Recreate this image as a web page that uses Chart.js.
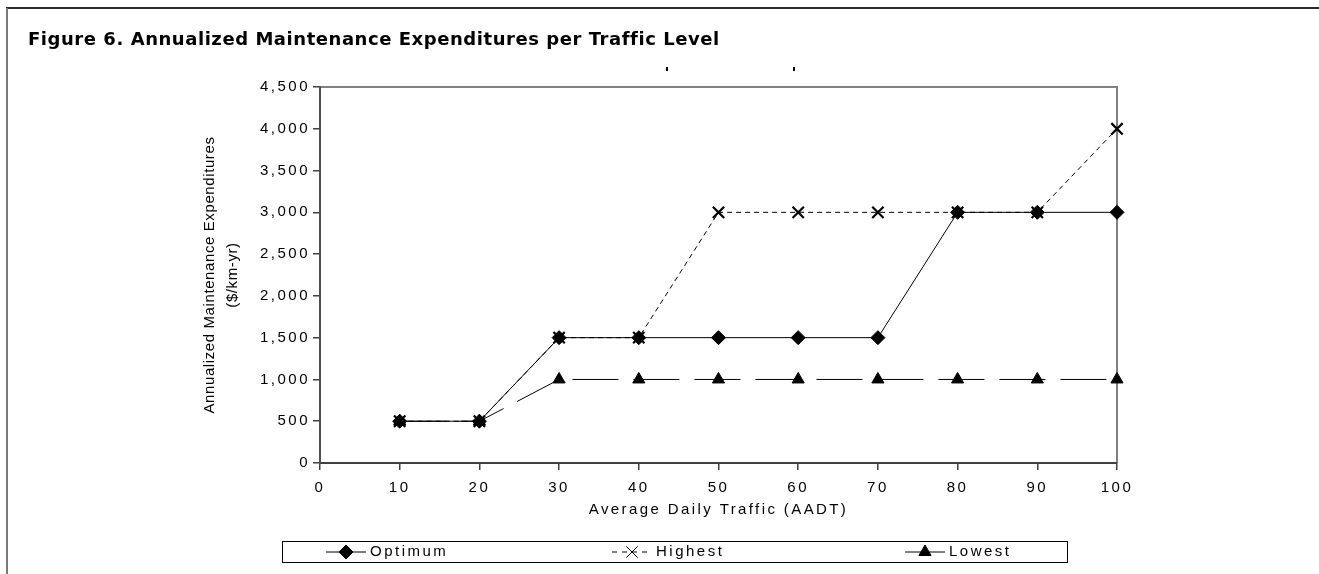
<!DOCTYPE html>
<html>
<head>
<meta charset="utf-8">
<script src="https://cdn.jsdelivr.net/npm/chart.js@4.4.1/dist/chart.umd.min.js"></script>
<style>
  html, body { margin: 0; padding: 0; background: #fff; }
  #wrap { width: 1319px; height: 574px; }
</style>
</head>
<body>
<div id="wrap"><canvas id="chart" width="1319" height="574"></canvas></div>
<script>
// Donnees
const traffic = [10, 20, 30, 40, 50, 60, 70, 80, 90, 100];
const optimum = [500, 500, 1500, 1500, 1500, 1500, 1500, 3000, 3000, 3000];
const highest = [500, 500, 1500, 1500, 3000, 3000, 3000, 3000, 3000, 4000];
const lowest = [500, 500, 1000, 1000, 1000, 1000, 1000, 1000, 1000, 1000];
const seriesNames = ['Optimum', 'Highest', 'Lowest'];

const titleText = 'Figure 6. Annualized Maintenance Expenditures per Traffic Level';
const xTitle = 'Average Daily Traffic (AADT)';
const yTitle = ['Annualized Maintenance Expenditures', '($/km-yr)'];

function toPoints(values) {
  return traffic.map((t, i) => ({ x: t, y: values[i] }));
}

const tickFont = { family: "'Liberation Sans', Arial, sans-serif", size: 15 };

// Cadre, titres et legende dessines a la main
const decorPlugin = {
  id: 'decor',
  beforeDraw(chart) {
    const ctx = chart.ctx;
    ctx.save();
    // bordure exterieure (haut + gauche)
    ctx.strokeStyle = '#2b2b2b';
    ctx.lineWidth = 2;
    ctx.beginPath();
    ctx.moveTo(6, 8);
    ctx.lineTo(1319, 8);
    ctx.stroke();
    ctx.strokeStyle = '#7a7a7a';
    ctx.beginPath();
    ctx.moveTo(7, 8);
    ctx.lineTo(7, 574);
    ctx.stroke();

    // titre
    ctx.fillStyle = '#000';
    ctx.font = 'bold 18px "DejaVu Sans", Verdana, sans-serif';
    ctx.letterSpacing = '0.55px';
    ctx.textAlign = 'left';
    ctx.textBaseline = 'alphabetic';
    ctx.fillText(titleText, 28, 45);
    ctx.letterSpacing = '0px';

    // petites marques parasites en haut
    ctx.fillRect(666, 67, 2, 4);
    ctx.fillRect(793, 67, 2, 4);

    // cadre gris du graphique (haut + droite)
    const a = chart.chartArea;
    ctx.strokeStyle = '#808080';
    ctx.lineWidth = 2;
    ctx.beginPath();
    ctx.moveTo(a.left, a.top);
    ctx.lineTo(a.right, a.top);
    ctx.lineTo(a.right, a.bottom);
    ctx.stroke();
    ctx.restore();

    // espacement des lettres pour les graduations
    ctx.letterSpacing = '2.5px';
  },
  afterDraw(chart) {
    const ctx = chart.ctx;
    const a = chart.chartArea;
    ctx.save();
    ctx.fillStyle = '#000';
    ctx.font = '15px "Liberation Sans", Arial, sans-serif';

    // titre axe X
    ctx.letterSpacing = '2.4px';
    ctx.textAlign = 'center';
    ctx.textBaseline = 'middle';
    ctx.fillText(xTitle, (a.left + a.right) / 2, 510);

    // titre axe Y
    ctx.letterSpacing = '0.6px';
    ctx.save();
    ctx.translate(210, (a.top + a.bottom) / 2);
    ctx.rotate(-Math.PI / 2);
    ctx.fillText(yTitle[0], 0, 0);
    ctx.fillText(yTitle[1], 0, 23);
    ctx.restore();

    // legende
    ctx.strokeStyle = '#000';
    ctx.lineWidth = 1;
    ctx.strokeRect(282.5, 541.5, 785, 21);
    const ly = 552;
    const starts = [326, 612, 905];
    ctx.letterSpacing = '2.5px';
    ctx.textAlign = 'left';
    chart.data.datasets.forEach((ds, i) => {
      const x0 = starts[i];
      ctx.save();
      ctx.strokeStyle = '#000';
      ctx.lineWidth = 1;
      ctx.setLineDash(i === 1 ? [5, 5] : []);
      ctx.beginPath();
      ctx.moveTo(x0, ly);
      ctx.lineTo(x0 + 40, ly);
      ctx.stroke();
      ctx.restore();
      ctx.save();
      ctx.fillStyle = '#000';
      ctx.strokeStyle = '#000';
      Chart.helpers.drawPoint(ctx, {
        pointStyle: ds.pointStyle,
        radius: ds.pointRadius,
        borderWidth: ds.pointBorderWidth,
        rotation: 0
      }, x0 + 20, ly);
      ctx.restore();
      ctx.fillText(ds.label, x0 + 44, ly);
    });
    ctx.restore();
    ctx.letterSpacing = '0px';
  }
};

new Chart(document.getElementById('chart'), {
  type: 'line',
  data: {
    datasets: [
      {
        label: seriesNames[0],
        data: toPoints(optimum),
        borderColor: '#000',
        backgroundColor: '#000',
        borderWidth: 1,
        pointStyle: 'rectRot',
        pointRadius: 7,
        pointBorderWidth: 1,
        pointBackgroundColor: '#000',
        pointBorderColor: '#000'
      },
      {
        label: seriesNames[1],
        data: toPoints(highest),
        borderColor: '#000',
        backgroundColor: '#000',
        borderWidth: 1,
        borderDash: [5, 4],
        pointStyle: 'crossRot',
        pointRadius: 8,
        pointBorderWidth: 2.2,
        pointBorderColor: '#000'
      },
      {
        label: seriesNames[2],
        data: toPoints(lowest),
        borderColor: '#000',
        backgroundColor: '#000',
        borderWidth: 1,
        borderDash: [46, 15],
        pointStyle: 'triangle',
        pointRadius: 7,
        pointBorderWidth: 1,
        pointBackgroundColor: '#000',
        pointBorderColor: '#000'
      }
    ]
  },
  options: {
    responsive: false,
    animation: false,
    devicePixelRatio: 1,
    clip: false,
    layout: { padding: { left: 0, top: 87, right: 202, bottom: 71 } },
    plugins: {
      legend: { display: false },
      title: { display: false },
      tooltip: { enabled: false }
    },
    scales: {
      x: {
        type: 'linear',
        min: 0,
        max: 100,
        afterFit(scale) { scale.height = 40; },
        ticks: { stepSize: 10, color: '#000', font: tickFont, padding: 9, maxRotation: 0 },
        grid: { drawOnChartArea: false, drawTicks: true, tickLength: 7, color: '#404040', lineWidth: 1.5 },
        border: { display: true, color: '#404040', width: 2 }
      },
      y: {
        min: 0,
        max: 4500,
        afterFit(scale) { scale.width = 320; },
        ticks: {
          stepSize: 500,
          color: '#000',
          font: tickFont,
          padding: 3,
          callback: v => v.toLocaleString('en-US')
        },
        grid: { drawOnChartArea: false, drawTicks: true, tickLength: 7, color: '#404040', lineWidth: 1.5 },
        border: { display: true, color: '#505050', width: 2 }
      }
    }
  },
  plugins: [decorPlugin]
});
</script>
</body>
</html>
